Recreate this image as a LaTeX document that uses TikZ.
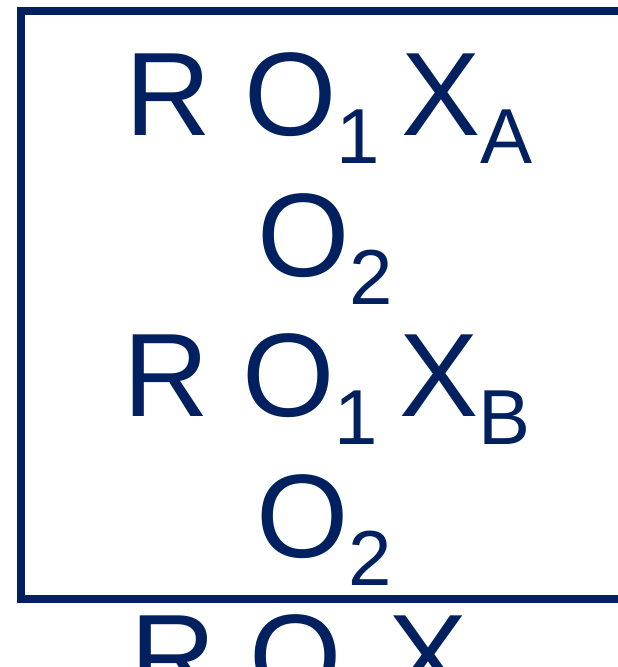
\documentclass[tikz,border=0pt]{standalone}
\usepackage{fontspec}
\setmainfont{Liberation Sans}
\definecolor{navy}{RGB}{0,32,96}
\newcommand{\lowsub}[1]{\raisebox{-28pt}{\fontsize{78pt}{78pt}\selectfont #1}}
\begin{document}
\begin{tikzpicture}[x=1pt,y=-1pt,
  txt/.style={anchor=base west, inner sep=0pt, outer sep=0pt, text=navy,
    font=\fontsize{118.7pt}{120pt}\selectfont},
  frame/.style={draw=navy, line width=8pt}]
\useasboundingbox (0,0) rectangle (618,667);
\clip (0,0) rectangle (618,667);
\draw[frame] (21,11) rectangle (640,599);
\node[txt] (l1) at (125.5,135) {R O\lowsub{1\ }X\lowsub{A}};
\node[txt] (l2) at (257,276) {O\lowsub{2}};
\node[txt] (l3) at (123.5,416) {R O\lowsub{1\ }X\lowsub{B}};
\node[txt] (l4) at (256,557) {O\lowsub{2}};
\node[txt] (l5) at (130.5,697) {R O\hspace{47pt}X};
\end{tikzpicture}
\end{document}
